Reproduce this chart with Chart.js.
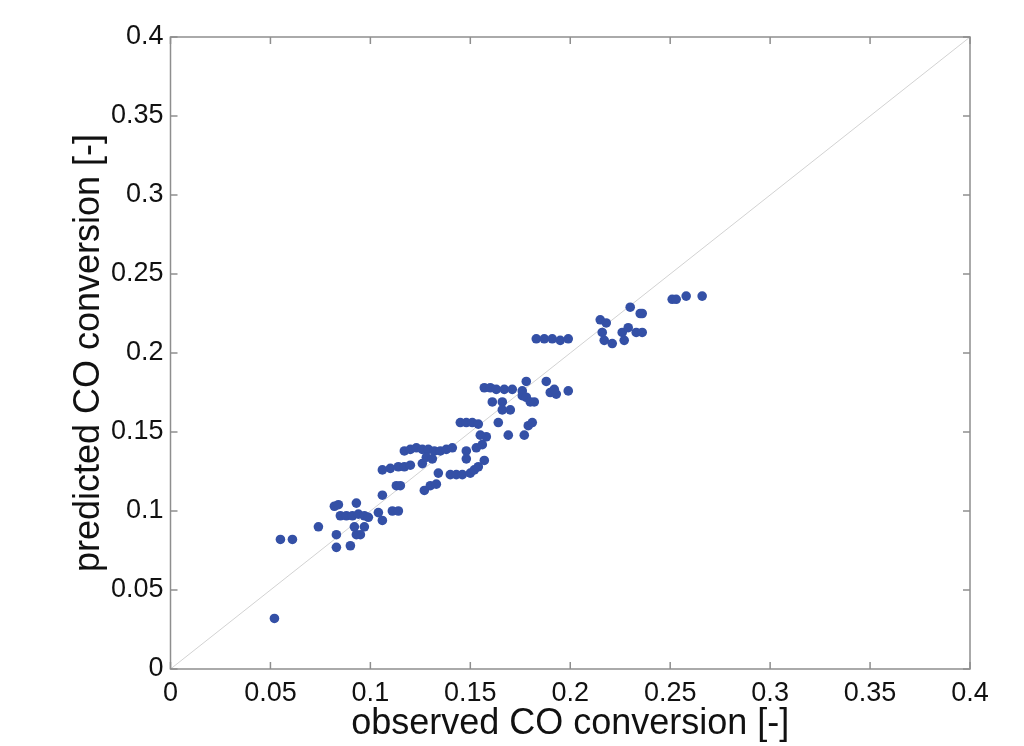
<!DOCTYPE html>
<html>
<head>
<meta charset="utf-8">
<script src="https://cdn.jsdelivr.net/npm/chart.js@4"></script>
<style>
  body { margin: 0; background: #fff; }
  #wrap { width: 1024px; height: 746px; }
</style>
</head>
<body>
<div id="wrap"><canvas id="parity_chart"></canvas></div>
<script>
// observed vs predicted CO conversion
const observed = [
	0.052, 0.055, 0.061, 0.074, 0.082, 0.083, 0.083, 0.090, 0.093, 0.084,
	0.085, 0.088, 0.091, 0.094, 0.097, 0.099, 0.097, 0.095, 0.093, 0.092,
	0.104, 0.106, 0.106, 0.111, 0.114, 0.113, 0.115, 0.106, 0.110, 0.114,
	0.117, 0.120, 0.117, 0.120, 0.123, 0.126, 0.129, 0.132, 0.135, 0.138,
	0.141, 0.126, 0.128, 0.131, 0.127, 0.130, 0.133, 0.134, 0.140, 0.143,
	0.146, 0.150, 0.152, 0.148, 0.148, 0.153, 0.156, 0.154, 0.157, 0.158,
	0.155, 0.145, 0.148, 0.151, 0.154, 0.164, 0.169, 0.177, 0.179, 0.181,
	0.157, 0.160, 0.163, 0.167, 0.171, 0.178, 0.176, 0.176, 0.161, 0.166,
	0.166, 0.170, 0.178, 0.180, 0.182, 0.188, 0.190, 0.193, 0.192, 0.199,
	0.183, 0.187, 0.191, 0.195, 0.199, 0.215, 0.218, 0.230, 0.235, 0.236,
	0.216, 0.217, 0.221, 0.226, 0.229, 0.227, 0.233, 0.236, 0.251, 0.253,
	0.258, 0.266
];
const predicted = [
	0.032, 0.082, 0.082, 0.090, 0.103, 0.085, 0.077, 0.078, 0.105, 0.104,
	0.097, 0.097, 0.097, 0.098, 0.097, 0.096, 0.090, 0.085, 0.085, 0.090,
	0.099, 0.094, 0.110, 0.100, 0.100, 0.116, 0.116, 0.126, 0.127, 0.128,
	0.128, 0.129, 0.138, 0.139, 0.140, 0.139, 0.139, 0.138, 0.138, 0.139,
	0.140, 0.130, 0.134, 0.133, 0.113, 0.116, 0.117, 0.124, 0.123, 0.123,
	0.123, 0.124, 0.126, 0.138, 0.133, 0.140, 0.142, 0.128, 0.132, 0.147,
	0.148, 0.156, 0.156, 0.156, 0.155, 0.156, 0.148, 0.148, 0.154, 0.156,
	0.178, 0.178, 0.177, 0.177, 0.177, 0.182, 0.176, 0.173, 0.169, 0.169,
	0.164, 0.164, 0.172, 0.169, 0.169, 0.182, 0.175, 0.174, 0.177, 0.176,
	0.209, 0.209, 0.209, 0.208, 0.209, 0.221, 0.219, 0.229, 0.225, 0.225,
	0.213, 0.208, 0.206, 0.213, 0.216, 0.208, 0.213, 0.213, 0.234, 0.234,
	0.236, 0.236
];
const parity_line = [0, 0.4];
const tick_values = [0, 0.05, 0.1, 0.15, 0.2, 0.25, 0.3, 0.35, 0.4];

const points = observed.map((x, i) => ({ x: x, y: predicted[i] }));
const diagonal = parity_line.map(v => ({ x: v, y: v }));

const axis_color = '#8e8e8e';
const label_font = { family: 'Liberation Sans, Arial, sans-serif', size: 27 };
const title_font = { family: 'Liberation Sans, Arial, sans-serif', size: 36 };

// matlab style box with inward ticks on every side
const boxPlugin = {
	id: 'box',
	afterDraw(chart) {
		const c = chart.ctx;
		const a = chart.chartArea;
		const xs = chart.scales.x, ys = chart.scales.y;
		const len = 7;
		c.save();
		c.strokeStyle = axis_color;
		c.lineWidth = 1.5;
		c.strokeRect(a.left, a.top, a.right - a.left, a.bottom - a.top);
		c.beginPath();
		tick_values.forEach(v => {
			let px = xs.getPixelForValue(v);
			c.moveTo(px, a.bottom); c.lineTo(px, a.bottom - len);
			c.moveTo(px, a.top); c.lineTo(px, a.top + len);
			let py = ys.getPixelForValue(v);
			c.moveTo(a.left, py); c.lineTo(a.left + len, py);
			c.moveTo(a.right, py); c.lineTo(a.right - len, py);
		});
		c.stroke();
		c.restore();
	}
};

function setTicks(scale) {
	scale.ticks = tick_values.map(v => ({ value: v }));
}
function fmt(v) {
	return String(+Number(v).toFixed(2));
}

const ctx = document.getElementById('parity_chart').getContext('2d');
const my_chart = new Chart(ctx, {
	type: 'scatter',
	data: {
		datasets: [{
			data: diagonal,
			showLine: true,
			borderColor: '#d2d2d2',
			borderWidth: 1,
			pointRadius: 0,
			order: 2
		}, {
			data: points,
			backgroundColor: '#3450a6',
			borderColor: '#3450a6',
			borderWidth: 0,
			pointRadius: 4.8,
			order: 1
		}]
	},
	options: {
		responsive: true,
		maintainAspectRatio: false,
		animation: false,
		layout: { padding: { top: 37, right: 54, left: 0, bottom: 0 } },
		plugins: {
			legend: { display: false },
			tooltip: { enabled: false }
		},
		scales: {
			x: {
				type: 'linear',
				min: 0, max: 0.4,
				afterBuildTicks: setTicks,
				afterFit(scale) { scale.height = 77; },
				grid: { display: false, drawTicks: false },
				border: { display: false },
				ticks: { color: '#111', font: label_font, padding: 8, maxRotation: 0, callback: fmt },
				title: { display: true, text: 'observed CO conversion [-]', color: '#111', font: title_font, padding: { top: 0, bottom: 0 } }
			},
			y: {
				type: 'linear',
				min: 0, max: 0.4,
				afterBuildTicks: setTicks,
				afterFit(scale) { scale.width = 170.5; },
				grid: { display: false, drawTicks: false },
				border: { display: false },
				ticks: { color: '#111', font: label_font, padding: 7, callback: fmt },
				title: { display: true, text: 'predicted CO conversion [-]', color: '#111', font: title_font, padding: { top: 67, bottom: 0 } }
			}
		}
	},
	plugins: [boxPlugin]
});
</script>
</body>
</html>
